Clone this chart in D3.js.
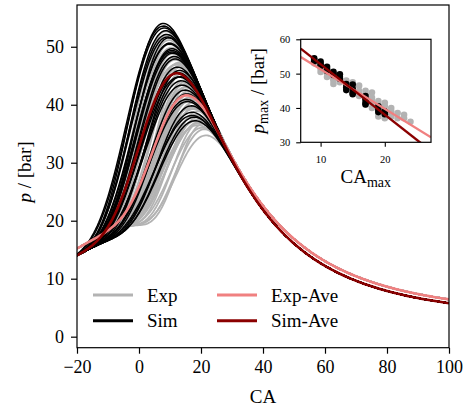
<!DOCTYPE html>
<html>
<head>
<meta charset="utf-8">
<script src="https://cdnjs.cloudflare.com/ajax/libs/d3/7.8.5/d3.min.js"></script>
<style>
	body { margin: 0; background: #fff; }
	text { font-family: "Liberation Serif", "Times New Roman", serif; fill: #000; }
</style>
</head>
<body>
<div id="chart"></div>
<script>

// crank angle and pressure at peak, one entry per cycle
var expPeakCA = [9, 10, 10, 10, 11, 11, 11, 12, 12, 12, 12, 13, 13, 14, 14, 15, 15, 16, 16, 16, 16,
                 17, 17, 17, 17, 17, 18, 18, 18, 18, 18, 19, 19, 19, 19, 19, 20, 20, 20, 20, 20,
                 21, 21, 21, 21, 22, 22, 23, 23, 24];
var expPeakP  = [53.0, 52.5, 51.5, 50.5, 51.0, 50.0, 49.0, 49.5, 48.5, 48.0, 47.0, 48.5, 47.5, 48.0, 47.0, 47.5, 46.0, 46.5, 45.0, 44.0, 43.5,
                 45.0, 44.0, 43.0, 42.5, 41.0, 44.5, 43.0, 42.0, 41.5, 40.0, 42.0, 41.0, 40.0, 38.5, 37.5, 41.5, 40.5, 39.0, 38.0, 37.0,
                 40.0, 39.0, 38.0, 37.5, 38.5, 37.0, 38.0, 37.0, 36.0];

var simPeakCA = [9, 9, 9, 10, 10, 10, 11, 11, 11, 12, 12, 12, 13, 13, 13, 14, 14, 14,
                 15, 15, 15, 15, 17, 17, 17, 17, 19, 19, 19, 20, 20];
var simPeakP  = [54.5, 54.0, 53.6, 53.5, 52.8, 52.2, 52.0, 51.3, 50.8, 50.5, 50.0, 49.6, 49.8, 49.0, 48.5, 47.0, 46.0, 45.2,
                 46.8, 45.5, 44.5, 44.0, 43.5, 42.5, 41.5, 41.0, 40.5, 39.5, 38.8, 39.0, 38.2];

// pressure at -20 CA, pressure on the expansion line at 24 CA, usual burn start
var startPressure = { exp: 15.2, sim: 14.0 };
var expansionPressure = { exp: 37.5, sim: 37.5 };
var expansionExponent = { exp: 1.15, sim: 1.22 };
var preferredStart = { exp: -19, sim: -27 };

var xTicks = [-20, 0, 20, 40, 60, 80, 100];
var yTicks = [0, 10, 20, 30, 40, 50];
var insetXTicks = [10, 20];
var insetYTicks = [30, 40, 50, 60];
var legendNames = ["Exp", "Sim", "Exp-Ave", "Sim-Ave"];

var colors = { exp: "#b3b3b3", sim: "#000000", expAve: "#f08080", simAve: "#8b0000" };
var serif = "'Liberation Serif', 'Times New Roman', serif";



//*******************************************************************************************
//
//		CYCLE MODEL  (motored trace + Wiebe burn, fitted to every peak)
//
//*******************************************************************************************

var compRatio = 10, rodRatio = 0.3, compExponent = 0.78, startWeight = 0.03;

function volume(ca) {
	var t = ca * Math.PI / 180, s = Math.sin(t);
	return 1 + (compRatio - 1) / 2 * (1 - Math.cos(t) + (1 - Math.sqrt(1 - rodRatio * rodRatio * s * s)) / rodRatio);
}

function wiebe(ca, start, dur) {
	if (ca <= start) return 0;
	var u = (ca - start) / dur;
	return 1 - Math.exp(-5 * u * u * u);
}

function makeModel(key) {
	var v0 = volume(-20), vRef = volume(24);
	return {
		motored: function(ca) { return startPressure[key] * Math.pow(v0 / volume(ca), compExponent); },
		burned: function(ca) { return expansionPressure[key] * Math.pow(vRef / volume(ca), expansionExponent[key]); }
	};
}

function fitCycles(key, peakCA, peakP) {
	var model = makeModel(key);
	var fitGrid = d3.range(-10, 40.01, 0.25);
	var mot = fitGrid.map(model.motored), burn = fitGrid.map(model.burned);
	var s0 = preferredStart[key];

	function peakOf(start, dur) {
		var best = -1, bestCa = 0;
		for (var i = 0; i < fitGrid.length; i++) {
			var p = mot[i] + (burn[i] - mot[i]) * wiebe(fitGrid[i], start, dur);
			if (p > best) { best = p; bestCa = fitGrid[i]; }
		}
		return [bestCa, best];
	}

	// coarse table once, then refine per cycle
	var table = [];
	for (var s = -45; s <= 25; s += 1)
		for (var d = 8; d <= 100; d += 1)
			table.push({ s: s, d: d, pk: peakOf(s, d) });

	return peakCA.map(function(ca, k) {
		var p = peakP[k];
		var err = function(pk, s) {
			return (pk[0] - ca) * (pk[0] - ca) + (pk[1] - p) * (pk[1] - p) +
				startWeight * (s - s0) * (s - s0);
		};
		var best = d3.least(table, function(t) { return err(t.pk, t.s); });
		var bs = best.s, bd = best.d, be = err(best.pk, best.s);
		for (var s2 = best.s - 1; s2 <= best.s + 1; s2 += 0.1)
			for (var d2 = best.d - 1; d2 <= best.d + 1; d2 += 0.1) {
				var e = err(peakOf(s2, d2), s2);
				if (e < be) { be = e; bs = s2; bd = d2; }
			}
		return { start: bs, dur: bd, model: model };
	});
}

function traceOf(cycle, grid) {
	return grid.map(function(ca) {
		var m = cycle.model.motored(ca), b = cycle.model.burned(ca);
		return [ca, m + (b - m) * wiebe(ca, cycle.start, cycle.dur)];
	});
}

function meanTrace(traces) {
	return traces[0].map(function(pt, i) {
		return [pt[0], d3.mean(traces, function(t) { return t[i][1]; })];
	});
}

function linearFit(xs, ys) {
	var mx = d3.mean(xs), my = d3.mean(ys);
	var sxy = d3.sum(xs, function(x, i) { return (x - mx) * (ys[i] - my); });
	var sxx = d3.sum(xs, function(x) { return (x - mx) * (x - mx); });
	var slope = sxy / sxx;
	return function(x) { return my + slope * (x - mx); };
}



//*******************************************************************************************
//
//		DRAWING
//
//*******************************************************************************************

function fmt(d) { return d < 0 ? "\u2212" + Math.abs(d) : "" + d; }

function styleAxis(a, size, tickWidth) {
	a.attr("font-family", serif).attr("font-size", size);
	a.select(".domain").remove();
	a.selectAll("line").attr("stroke", "#000").attr("stroke-width", tickWidth);
	a.selectAll("text").style("font-family", serif).attr("font-size", size);
}

function drawChart() {
	var width = 470, height = 407;
	var svg = d3.select("#chart").append("svg")
		.attr("width", width)
		.attr("height", height);

	var box = { left: 77, right: 449, top: 5, bottom: 347.7 };
	var x = d3.scaleLinear().domain([-20, 100]).range([box.left, box.right]);
	var y = d3.scaleLinear().domain([-1.9, 57.2]).range([box.bottom, box.top]);

	var grid = d3.range(-20, 100.01, 0.5);
	var expTraces = fitCycles("exp", expPeakCA, expPeakP).map(function(c) { return traceOf(c, grid); });
	var simTraces = fitCycles("sim", simPeakCA, simPeakP).map(function(c) { return traceOf(c, grid); });

	svg.append("clipPath").attr("id", "mainClip")
		.append("rect").attr("x", box.left).attr("y", box.top)
		.attr("width", box.right - box.left).attr("height", box.bottom - box.top);

	var line = d3.line().x(function(d) { return x(d[0]); }).y(function(d) { return y(d[1]); });
	var plot = svg.append("g").attr("clip-path", "url(#mainClip)");

	plot.selectAll(".exp").data(expTraces).enter().append("path")
		.attr("d", line).attr("fill", "none").attr("stroke", colors.exp).attr("stroke-width", 1.8);
	plot.selectAll(".sim").data(simTraces).enter().append("path")
		.attr("d", line).attr("fill", "none").attr("stroke", colors.sim).attr("stroke-width", 1.5);
	plot.append("path").datum(meanTrace(expTraces))
		.attr("d", line).attr("fill", "none").attr("stroke", colors.expAve).attr("stroke-width", 2.6);
	plot.append("path").datum(meanTrace(simTraces))
		.attr("d", line).attr("fill", "none").attr("stroke", colors.simAve).attr("stroke-width", 2.6);

	// axes
	var xAxis = svg.append("g").attr("transform", "translate(0," + box.bottom + ")")
		.call(d3.axisBottom(x).tickValues(xTicks).tickSize(6).tickPadding(7).tickFormat(fmt));
	var yAxis = svg.append("g").attr("transform", "translate(" + box.left + ",0)")
		.call(d3.axisLeft(y).tickValues(yTicks).tickSize(6).tickPadding(7).tickFormat(fmt));
	styleAxis(xAxis, 18, 1.2);
	styleAxis(yAxis, 18, 1.2);

	svg.append("rect").attr("x", box.left).attr("y", box.top)
		.attr("width", box.right - box.left).attr("height", box.bottom - box.top)
		.attr("fill", "none").attr("stroke", "#000").attr("stroke-width", 1.2);

	svg.append("text").attr("x", (box.left + box.right) / 2).attr("y", 403)
		.attr("text-anchor", "middle").attr("font-size", 19).text("CA");

	var yl = svg.append("text").attr("transform", "translate(31,172) rotate(-90)")
		.attr("text-anchor", "middle").attr("font-size", 19);
	yl.append("tspan").attr("font-style", "italic").text("p");
	yl.append("tspan").text(" / [bar]");

	// legend, two columns
	var legendColors = [colors.exp, colors.sim, colors.expAve, colors.simAve];
	var legend = svg.append("g");
	legendNames.forEach(function(name, i) {
		var col = Math.floor(i / 2), row = i % 2;
		var lx = col === 0 ? 93 : 217, ly = row === 0 ? 295 : 320.7;
		legend.append("line").attr("x1", lx).attr("x2", lx + 40).attr("y1", ly).attr("y2", ly)
			.attr("stroke", legendColors[i]).attr("stroke-width", 3);
		legend.append("text").attr("x", lx + 54).attr("y", ly + 6.5)
			.attr("font-size", 19).text(name);
	});

	drawInset(svg);
}

function drawInset(svg) {
	var box = { left: 300.7, right: 431, top: 39.3, bottom: 142.3 };
	var x = d3.scaleLinear().domain([6.9, 27.2]).range([box.left, box.right]);
	var y = d3.scaleLinear().domain([30, 60]).range([box.bottom, box.top]);

	svg.append("rect").attr("x", box.left).attr("y", box.top)
		.attr("width", box.right - box.left).attr("height", box.bottom - box.top)
		.attr("fill", "#fff");

	svg.append("clipPath").attr("id", "insetClip")
		.append("rect").attr("x", box.left).attr("y", box.top)
		.attr("width", box.right - box.left).attr("height", box.bottom - box.top);
	var g = svg.append("g").attr("clip-path", "url(#insetClip)");

	g.selectAll(".expDot").data(expPeakCA).enter().append("circle")
		.attr("cx", function(d) { return x(d); })
		.attr("cy", function(d, i) { return y(expPeakP[i]); })
		.attr("r", 3.3).attr("fill", colors.exp);
	g.selectAll(".simDot").data(simPeakCA).enter().append("circle")
		.attr("cx", function(d) { return x(d); })
		.attr("cy", function(d, i) { return y(simPeakP[i]); })
		.attr("r", 3.3).attr("fill", colors.sim);

	var ends = x.domain();
	var expFit = linearFit(expPeakCA, expPeakP), simFit = linearFit(simPeakCA, simPeakP);
	[[expFit, colors.expAve], [simFit, colors.simAve]].forEach(function(f) {
		g.append("line")
			.attr("x1", x(ends[0])).attr("y1", y(f[0](ends[0])))
			.attr("x2", x(ends[1])).attr("y2", y(f[0](ends[1])))
			.attr("stroke", f[1]).attr("stroke-width", 2.4);
	});

	var xAxis = svg.append("g").attr("transform", "translate(0," + box.bottom + ")")
		.call(d3.axisBottom(x).tickValues(insetXTicks).tickSize(4.5).tickPadding(9));
	var yAxis = svg.append("g").attr("transform", "translate(" + box.left + ",0)")
		.call(d3.axisLeft(y).tickValues(insetYTicks).tickSize(4.5).tickPadding(6));
	styleAxis(xAxis, 10.5, 1.1);
	styleAxis(yAxis, 10.5, 1.1);

	svg.append("rect").attr("x", box.left).attr("y", box.top)
		.attr("width", box.right - box.left).attr("height", box.bottom - box.top)
		.attr("fill", "none").attr("stroke", "#000").attr("stroke-width", 1.2);

	var xl = svg.append("text").attr("x", (box.left + box.right) / 2).attr("y", 183)
		.attr("text-anchor", "middle").attr("font-size", 19);
	xl.append("tspan").text("CA");
	xl.append("tspan").attr("font-size", 14).attr("dy", 4).text("max");

	var yl = svg.append("text").attr("transform", "translate(264," + (box.top + box.bottom) / 2 + ") rotate(-90)")
		.attr("text-anchor", "middle").attr("font-size", 19);
	yl.append("tspan").attr("font-style", "italic").text("p");
	yl.append("tspan").attr("font-size", 14).attr("dy", 4).text("max");
	yl.append("tspan").attr("dy", -4).text(" / [bar]");
}

drawChart();

</script>
</body>
</html>
